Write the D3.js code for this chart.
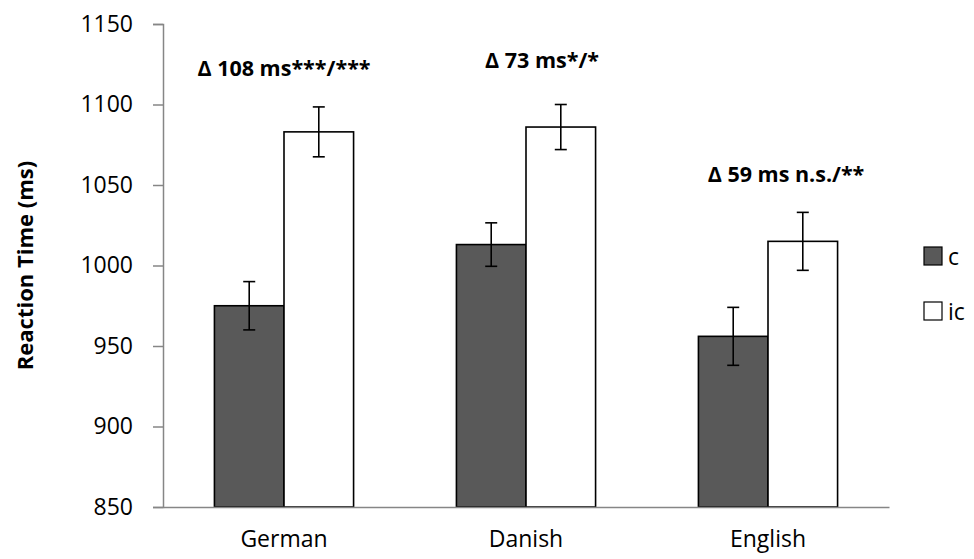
<!DOCTYPE html>
<html>
<head>
<meta charset="utf-8">
<script src="https://cdn.jsdelivr.net/npm/d3@7"></script>
<style>
  body { margin: 0; background: #fff; }
  text { font-family: "Open Sans", "Noto Sans", sans-serif; }
</style>
</head>
<body>
<div id="vis-tag"></div>
<script>
// 数据
const languages = ["German", "Danish", "English"];
const conditions = ["c", "ic"];
const meanC = [975, 1013, 956];
const meanIC = [1083, 1086, 1015];
const errC = [15, 13.5, 18];
const errIC = [15.5, 14, 18];
const annotations = ["Δ 108 ms***/***", "Δ 73 ms*/*", "Δ 59 ms n.s./**"];
const annotationY = [1118, 1122.5, 1052];
const annotationDx = [0, 16, 18];
const yTicks = [850, 900, 950, 1000, 1050, 1100, 1150];
const yLabel = "Reaction Time (ms)";

const width = 974, height = 559;
const margin = { top: 24, right: 85, bottom: 52, left: 163 };
const fills = { c: "#595959", ic: "#ffffff" };

const svg = d3.select("#vis-tag").append("svg")
  .attr("width", width).attr("height", height);

const x = d3.scaleBand()
  .domain(languages)
  .range([margin.left, width - margin.right]);

const xInner = d3.scaleBand()
  .domain(conditions)
  .range([0, x.bandwidth() * 0.575]);

const y = d3.scaleLinear()
  .domain([850, 1150])
  .range([height - margin.bottom, margin.top]);

const data = [];
languages.forEach((lang, i) => {
  data.push({ lang, cond: "c", mean: meanC[i], err: errC[i] });
  data.push({ lang, cond: "ic", mean: meanIC[i], err: errIC[i] });
});

const offset = (x.bandwidth() - xInner.range()[1]) / 2;

// 柱子
svg.append("g").selectAll("rect")
  .data(data)
  .join("rect")
  .attr("x", d => x(d.lang) + offset + xInner(d.cond))
  .attr("y", d => y(d.mean))
  .attr("width", xInner.bandwidth())
  .attr("height", d => y(850) - y(d.mean))
  .attr("fill", d => fills[d.cond])
  .attr("stroke", "#000")
  .attr("stroke-width", 1.6);

// 误差线
const eb = svg.append("g").attr("stroke", "#000").attr("stroke-width", 1.6);
data.forEach(d => {
  const cx = x(d.lang) + offset + xInner(d.cond) + xInner.bandwidth() / 2;
  eb.append("line").attr("x1", cx).attr("x2", cx)
    .attr("y1", y(d.mean + d.err)).attr("y2", y(d.mean - d.err));
  eb.append("line").attr("x1", cx - 6).attr("x2", cx + 6)
    .attr("y1", y(d.mean + d.err)).attr("y2", y(d.mean + d.err));
  eb.append("line").attr("x1", cx - 6).attr("x2", cx + 6)
    .attr("y1", y(d.mean - d.err)).attr("y2", y(d.mean - d.err));
});

// Y轴
const yAxis = svg.append("g")
  .attr("transform", `translate(${margin.left},0)`)
  .call(d3.axisLeft(y).tickValues(yTicks).tickFormat(d3.format("d")).tickSize(10).tickPadding(20));
yAxis.select(".domain").attr("stroke", "#868686").attr("stroke-width", 1.5);
yAxis.selectAll(".tick line").attr("stroke", "#868686").attr("stroke-width", 1.5);
yAxis.selectAll(".tick text").attr("font-size", 23).attr("fill", "#000")
  .style("font-family", "'Open Sans', sans-serif");

// X轴
const xAxis = svg.append("g")
  .attr("transform", `translate(0,${y(850)})`)
  .call(d3.axisBottom(x).tickSize(0).tickPadding(24));
xAxis.select(".domain").attr("stroke", "#868686").attr("stroke-width", 1.5);
xAxis.selectAll(".tick text").attr("font-size", 23).attr("fill", "#000")
  .style("font-family", "'Open Sans', sans-serif");

// Y轴标题
svg.append("text")
  .attr("transform", `translate(33,${(y(850) + y(1150)) / 2}) rotate(-90)`)
  .attr("text-anchor", "middle")
  .attr("font-size", 22)
  .attr("font-weight", "bold")
  .text(yLabel);

// 标注
svg.append("g").selectAll("text")
  .data(languages)
  .join("text")
  .attr("x", (d, i) => x(d) + x.bandwidth() / 2 + annotationDx[i])
  .attr("y", (d, i) => y(annotationY[i]))
  .attr("text-anchor", "middle")
  .attr("font-size", 21.5)
  .attr("font-weight", "bold")
  .text((d, i) => annotations[i]);

// 图例
const legend = svg.append("g");
conditions.forEach((c, i) => {
  const ly = 247 + i * 55;
  legend.append("rect")
    .attr("x", 924).attr("y", ly).attr("width", 18).attr("height", 18)
    .attr("fill", fills[c]).attr("stroke", "#000").attr("stroke-width", 1.2);
  legend.append("text")
    .attr("x", 948).attr("y", ly + 18)
    .attr("font-size", 23)
    .text(c);
});
</script>
</body>
</html>
